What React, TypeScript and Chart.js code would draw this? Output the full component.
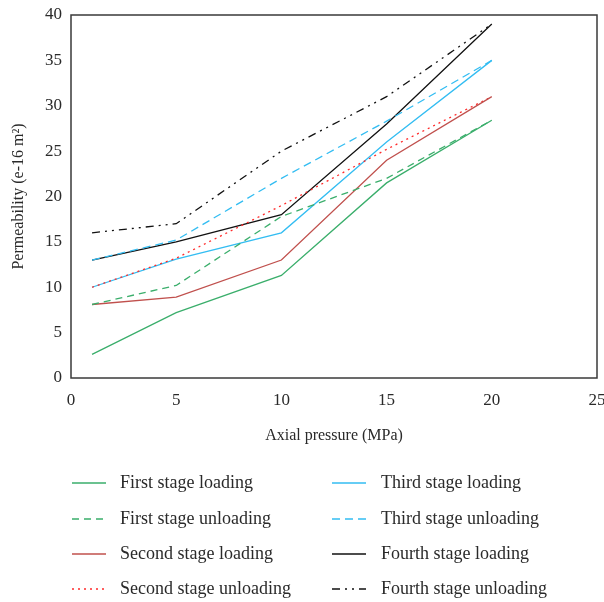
import React, { useEffect, useRef } from "react";
import { Chart, registerables } from "chart.js";

Chart.register(...registerables);

// Axial pressure (MPa)
const pressure = [1, 5, 10, 15, 20];

// Permeability (e-16 m²)
const firstLoading = [2.6, 7.2, 11.3, 21.5, 28.4];
const firstUnloading = [8.1, 10.2, 17.8, 22.0, 28.4];
const secondLoading = [8.1, 8.9, 13.0, 24.0, 31.0];
const secondUnloading = [10.0, 13.2, 19.0, 25.2, 31.0];
const thirdLoading = [10.0, 13.1, 16.0, 26.0, 35.0];
const thirdUnloading = [13.0, 15.2, 22.0, 28.3, 35.0];
const fourthLoading = [13.0, 15.0, 18.0, 28.0, 39.0];
const fourthUnloading = [16.0, 17.0, 25.0, 31.0, 39.0];

const seriesNames = [
  "First stage loading",
  "First stage unloading",
  "Second stage loading",
  "Second stage unloading",
  "Third stage loading",
  "Third stage unloading",
  "Fourth stage loading",
  "Fourth stage unloading",
];

const xTitle = "Axial pressure (MPa)";
const yTitle = "Permeability (e-16 m\u00B2)";

const SERIF = "'Liberation Serif', 'DejaVu Serif', serif";

export default function App() {
  const ref = useRef<HTMLCanvasElement>(null);

  useEffect(() => {
    if (!ref.current) return;
    const mk = (label: string, data: number[], color: string, dash: number[]) => ({
      label,
      data: pressure.map((x, i) => ({ x, y: data[i] })),
      borderColor: color,
      backgroundColor: color,
      borderDash: dash,
      borderWidth: 1.3,
      pointRadius: 0,
      pointHoverRadius: 0,
      tension: 0,
      fill: false,
    });

    const GREEN = "#3aae6b";
    const BROWN = "#c0504d";
    const RED = "#ff2a2a";
    const BLUE = "#33bdf2";
    const BLACK = "#111111";

    const datasets = [
      mk(seriesNames[0], firstLoading, GREEN, []),
      mk(seriesNames[1], firstUnloading, GREEN, [7, 5]),
      mk(seriesNames[2], secondLoading, BROWN, []),
      mk(seriesNames[3], secondUnloading, RED, [2, 4]),
      mk(seriesNames[4], thirdLoading, BLUE, []),
      mk(seriesNames[5], thirdUnloading, BLUE, [8, 5]),
      mk(seriesNames[6], fourthLoading, BLACK, []),
      mk(seriesNames[7], fourthUnloading, BLACK, [8, 5, 2, 5, 2, 5]),
    ];

    const boxPlugin = {
      id: "boxPlugin",
      afterDatasetsDraw(chart: any) {
        const { ctx, chartArea } = chart;
        const { left, top, right, bottom } = chartArea;
        ctx.save();
        ctx.strokeStyle = "#3a3a3a";
        ctx.lineWidth = 1.5;
        ctx.setLineDash([]);
        ctx.strokeRect(left, top, right - left, bottom - top);
        ctx.restore();
      },
    };

    const legendPlugin = {
      id: "twoColumnLegend",
      afterDraw(chart: any) {
        const { ctx } = chart;
        const rows = [483, 519, 554, 589];
        const cols = [
          { x0: 72, x1: 106, tx: 120 },
          { x0: 332, x1: 366, tx: 381 },
        ];
        ctx.save();
        chart.data.datasets.forEach((ds: any, i: number) => {
          const col = cols[Math.floor(i / 4)];
          const y = rows[i % 4];
          ctx.beginPath();
          ctx.strokeStyle = ds.borderColor;
          ctx.lineWidth = 1.3;
          ctx.setLineDash(ds.borderDash || []);
          ctx.moveTo(col.x0, y);
          ctx.lineTo(col.x1, y);
          ctx.stroke();
          ctx.setLineDash([]);
          ctx.fillStyle = "#2a2a2a";
          ctx.font = `18px ${SERIF}`;
          ctx.textAlign = "left";
          ctx.textBaseline = "middle";
          ctx.fillText(ds.label, col.tx, y);
        });
        ctx.restore();
      },
    };

    const chart = new Chart(ref.current, {
      type: "line",
      data: { datasets: datasets as any },
      options: {
        animation: false,
        responsive: false,
        maintainAspectRatio: false,
        layout: { padding: { left: 0, top: 15, right: 7, bottom: 157 } },
        plugins: {
          legend: { display: false },
          tooltip: { enabled: false },
        },
        scales: {
          x: {
            type: "linear",
            min: 0,
            max: 25,
            ticks: {
              stepSize: 5,
              color: "#2a2a2a",
              font: { family: SERIF, size: 17 },
              padding: 12,
              maxRotation: 0,
            },
            grid: { display: false, drawTicks: false },
            border: { display: false },
            title: {
              display: true,
              text: xTitle,
              color: "#2a2a2a",
              font: { family: SERIF, size: 16 },
              padding: { top: 0, bottom: 0 },
            },
            afterFit(scale: any) {
              scale.height = 67;
              scale.paddingLeft = 0;
              scale.paddingRight = 0;
            },
          },
          y: {
            type: "linear",
            min: 0,
            max: 40,
            ticks: {
              stepSize: 5,
              color: "#2a2a2a",
              font: { family: SERIF, size: 17 },
              padding: 9,
            },
            grid: { display: false, drawTicks: false },
            border: { display: false },
            title: {
              display: true,
              text: yTitle,
              color: "#2a2a2a",
              font: { family: SERIF, size: 16 },
              padding: { top: 9, bottom: 0 },
            },
            afterFit(scale: any) {
              scale.width = 71;
              scale.paddingTop = 0;
              scale.paddingBottom = 0;
            },
          },
        },
      },
      plugins: [boxPlugin, legendPlugin],
    });

    return () => chart.destroy();
  }, []);

  return (
    <div style={{ position: "fixed", left: 0, top: 0, width: 604, height: 602, background: "#fff" }}>
      <canvas ref={ref} width={604} height={602} style={{ display: "block", width: 604, height: 602 }} />
    </div>
  );
}
